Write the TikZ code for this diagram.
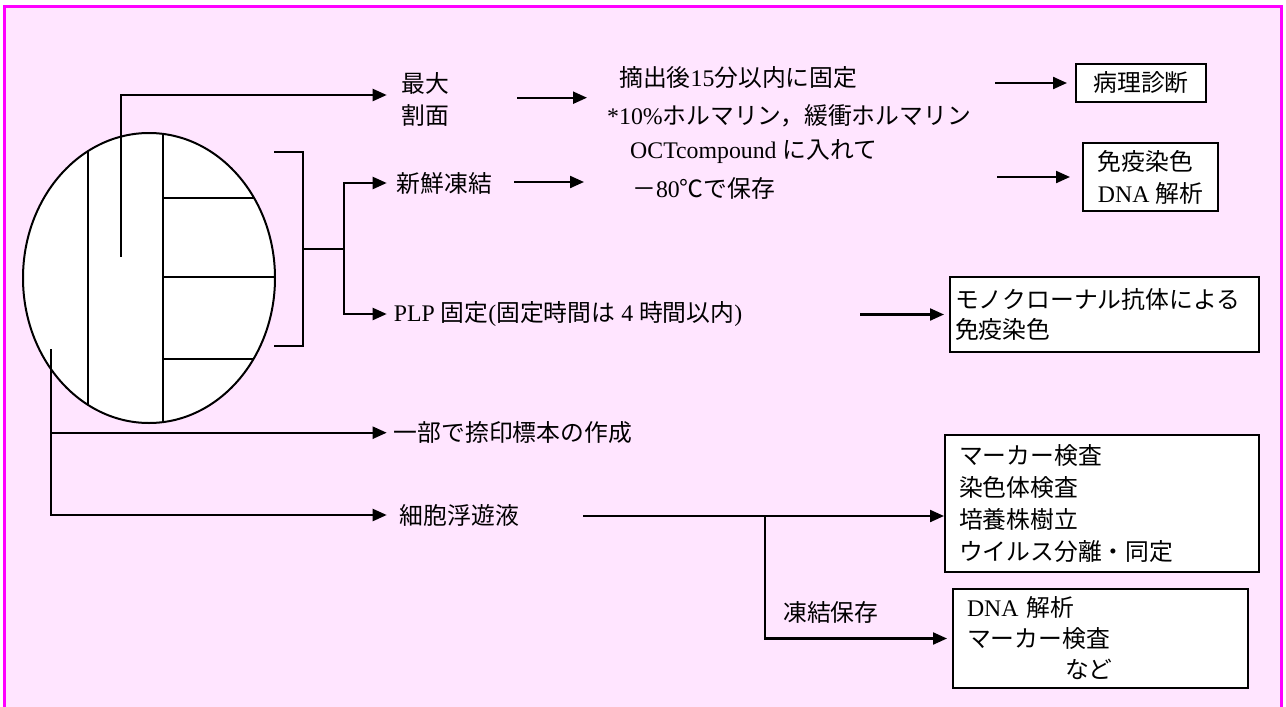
\documentclass[tikz,border=0pt]{standalone}
\usepackage{fontspec}
\setmainfont{Liberation Serif}
\newfontfamily\jp{Noto Sans CJK JP}
\usetikzlibrary{arrows.meta,shapes.geometric}
\definecolor{bgpink}{RGB}{255,229,255}
\definecolor{framemag}{RGB}{255,0,255}
\tikzset{
  ln/.style={line width=2.2pt, black},
  arr/.style={ln, -{Triangle[length=14pt,width=12pt]}},
  txt/.style={inner ysep=0pt, inner xsep=0pt, anchor=west, font=\fontsize{23.8}{32}\selectfont, align=left},
  boxnode/.style={draw, line width=2pt, fill=white, inner ysep=0pt, font=\fontsize{23.8}{32}\selectfont, align=left},
}
\begin{document}
\begin{tikzpicture}[x=1pt,y=-1pt]
\useasboundingbox (0,0) rectangle (1286,707);
\fill[white] (0,0) rectangle (1286,707);
\fill[bgpink] (4.5,6.5) rectangle (1281.5,707);
\draw[framemag, line width=3pt] (4.5,720) -- (4.5,6.5) -- (1281.5,6.5) -- (1281.5,720);

% specimen ellipse
\fill[white] (149,278) ellipse [x radius=126, y radius=145];
\begin{scope}
  \clip (149,278) ellipse [x radius=126, y radius=145];
  \draw[ln] (88,100) -- (88,450);
  \draw[ln] (163,100) -- (163,450);
  \draw[ln] (163,197.7) -- (300,197.7);
  \draw[ln] (163,277.3) -- (300,277.3);
  \draw[ln] (163,359) -- (300,359);
\end{scope}
\node[ellipse, draw, line width=2pt, minimum width=252pt, minimum height=290pt, inner sep=0pt] (spec) at (149,278) {};

% text nodes
\node[txt, inner xsep=15pt] (saidai) at (386.7,99) {{\jp 最大}\\{\jp 割面}};
\node[txt] (tekishutsu) at (619,78) {{\jp 摘出後}15{\jp 分以内に固定}};
\node[txt] (formalin) at (607,116) {*10\%{\jp ホルマリン，緩衝ホルマリン}};
\node[txt, inner xsep=10pt] (sensen) at (386.7,183) {{\jp 新鮮凍結}};
\node[txt] (oct) at (630,152) {OCTcompound {\jp に入れて}};
\node[txt] (minus80) at (632,188) {{\jp －}80{\jp ℃で保存}};
\node[txt, inner xsep=7pt] (plp) at (386.7,314) {PLP {\jp 固定}({\jp 固定時間は} 4 {\jp 時間以内})};
\node[txt, inner xsep=7pt] (ichibu) at (386.7,432.7) {{\jp 一部で捺印標本の作成}};
\node[txt, inner xsep=13pt] (saibou) at (386.7,515) {{\jp 細胞浮遊液}};
\node[txt] (touketsu) at (783,612) {{\jp 凍結保存}};

% boxes
\node[boxnode, align=center, minimum width=130pt, minimum height=38pt, text width=120pt, inner xsep=5pt] (byouri) at (1141,83) {{\jp 病理診断}};
\node[boxnode, minimum width=135pt, minimum height=68pt, inner xsep=0pt] (meneki) at (1150.5,177) {{\jp 免疫染色}\\DNA {\jp 解析}};
\node[boxnode, font=\fontsize{23.8}{30}\selectfont, minimum width=309pt, minimum height=75pt, text width=299pt, inner xsep=5pt] (mono) at (1104.5,314.5) {{\jp モノクローナル抗体による}\\{\jp 免疫染色}};
\node[boxnode, minimum width=314pt, minimum height=137pt, text width=286pt, inner xsep=14pt] (box1) at (1102,503.5) {{\jp マーカー検査}\\{\jp 染色体検査}\\{\jp 培養株樹立}\\{\jp ウイルス分離・同定}};
\node[boxnode, font=\fontsize{23.8}{31}\selectfont, minimum width=295pt, minimum height=99pt, text width=267pt, inner xsep=14pt] (box2) at (1100.5,638.5) {DNA {\jp 解析}\\{\jp マーカー検査}\\\hspace*{98pt}{\jp など}};

% connectors
\coordinate (topstart) at (120.7,256.7);
\draw[arr] (topstart) |- ([yshift=4pt]saidai.west);
\coordinate (a2s) at (517,97.7);
\coordinate (a2e) at (587,97.7);
\draw[arr] (a2s) -- (a2e);
\coordinate (a3s) at (995,83);
\draw[arr, shorten >=8pt] (a3s) -- (byouri.west);

\coordinate (bt) at (274,152.3);
\coordinate (bb) at (274,345.7);
\coordinate (bm) at (303.3,249);
\coordinate (fork) at (344.3,249);
\draw[ln] (bt) -- (303.3,152.3) -- (303.3,345.7) -- (bb);
\draw[ln] (bm) -- (fork);
\draw[arr] (fork) |- (sensen.west);
\draw[arr] (fork) |- (plp.west);

\coordinate (a5s) at (514,182);
\coordinate (a5e) at (584,182);
\draw[arr] (a5s) -- (a5e);
\coordinate (a6s) at (997,177);
\draw[arr, shorten >=12pt] (a6s) -- (meneki.west);
\coordinate (a7s) at (860,314.5);
\draw[arr, shorten >=5pt] (a7s) -- (mono.west);

\coordinate (lstart) at (51,349);
\draw[arr] (lstart) |- (ichibu.west);
\draw[arr] (lstart) |- (saibou.west);

\coordinate (a9s) at (583,516);
\coordinate (br) at (765,516);
\draw[arr] (a9s) -- (a9s -| box1.west);
\draw[arr, shorten >=5pt] (br) |- (box2.west);
\end{tikzpicture}
\end{document}
